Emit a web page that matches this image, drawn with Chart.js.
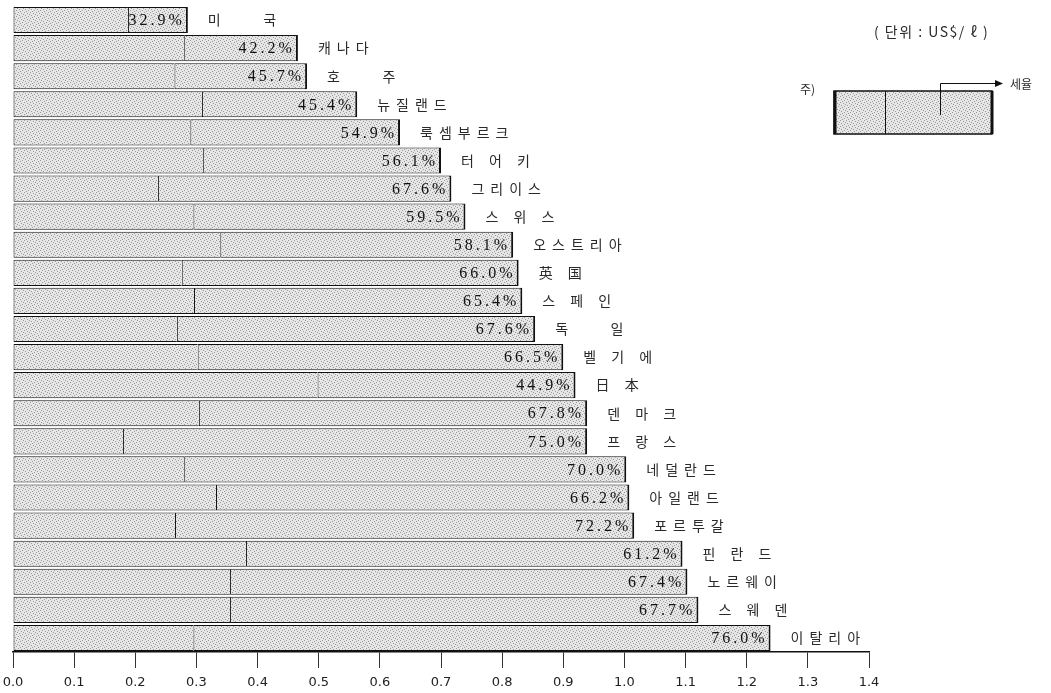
<!DOCTYPE html>
<html><head><meta charset="utf-8">
<script src="https://cdn.jsdelivr.net/npm/chart.js@4/dist/chart.umd.min.js"></script>
<style>html,body{margin:0;padding:0;background:#fff;}#wrap{width:1051px;height:693px;position:relative;}</style>
</head><body><div id="wrap"><canvas id="c" width="1051" height="693"></canvas></div>
<script>
const countries = ['미    국','캐나다','호    주','뉴질랜드','룩셈부르크','터 어 키','그리이스','스 위 스','오스트리아','英 国','스 페 인','독    일','벨 기 에','日 本','덴 마 크','프 랑 스','네덜란드','아일랜드','포르투갈','핀 란 드','노르웨이','스 웨 덴','이탈리아'];
const totalPrice = [0.286,0.466,0.481,0.563,0.633,0.700,0.717,0.740,0.818,0.827,0.833,0.854,0.900,0.920,0.939,0.939,1.003,1.008,1.016,1.095,1.103,1.121,1.239];
const preTaxPrice = [0.188,0.280,0.264,0.309,0.290,0.311,0.237,0.295,0.339,0.276,0.296,0.268,0.302,0.498,0.304,0.180,0.280,0.332,0.265,0.381,0.355,0.355,0.295];
const taxShareLabels = ['32.9%','42.2%','45.7%','45.4%','54.9%','56.1%','67.6%','59.5%','58.1%','66.0%','65.4%','67.6%','66.5%','44.9%','67.8%','75.0%','70.0%','66.2%','72.2%','61.2%','67.4%','67.7%','76.0%'];
const xTickLabels = ['0.0','0.1','0.2','0.3','0.4','0.5','0.6','0.7','0.8','0.9','1.0','1.1','1.2','1.3','1.4'];
const unitText = '( 단위 : US$/ ℓ )';
const noteLabel = '주)';
const noteTaxLabel = '세율';

function makePattern(ctx){
  const p=document.createElement('canvas'); p.width=6; p.height=6;
  const g=p.getContext('2d');
  g.fillStyle='#e6e6e6'; g.fillRect(0,0,6,6);
  g.fillStyle='#9a9a9a';
  [[0,0],[3,1],[1,3],[4,4],[2,5],[5,2]].forEach(([x,y])=>g.fillRect(x,y,1,1));
  return ctx.createPattern(p,'repeat');
}
const canvas=document.getElementById('c');
const ctx0=canvas.getContext('2d');
const pattern=makePattern(ctx0);

const labelPlugin={
  id:'labels',
  afterDatasetsDraw(chart){
    const ctx=chart.ctx;
    const meta=chart.getDatasetMeta(1);
    ctx.save();
    meta.data.forEach((el,i)=>{
      ctx.fillStyle='#111';
      ctx.textBaseline='middle';
      ctx.font='16px "Liberation Serif", serif';
      ctx.letterSpacing='3px';
      ctx.textAlign='right';
      ctx.fillText(taxShareLabels[i], el.x-3, el.y+1);
      ctx.font='14px "Noto Sans CJK KR", sans-serif';
      ctx.letterSpacing='6px';
      ctx.textAlign='left';
      ctx.fillStyle='#2a2a2a';
      ctx.fillText(countries[i], el.x+20, el.y);
    });
    ctx.letterSpacing='1.5px';
    ctx.font='14px "Noto Sans CJK KR", sans-serif';
    ctx.textAlign='left';
    ctx.fillStyle='#2a2a2a';
    ctx.fillText(unitText, 874, 32);
    ctx.letterSpacing='0px';
    ctx.font='12px "Noto Sans CJK KR", sans-serif';
    ctx.fillText(noteLabel, 800, 89);
    ctx.fillText(noteTaxLabel, 1010, 84);
    ctx.fillStyle=pattern;
    ctx.fillRect(834,91,158,43);
    ctx.strokeStyle='#111';
    ctx.lineWidth=1.5;
    ctx.strokeRect(834,91,158,43);
    ctx.lineWidth=3;
    ctx.beginPath();ctx.moveTo(992,91);ctx.lineTo(992,134);ctx.stroke();
    ctx.beginPath();ctx.moveTo(835,91);ctx.lineTo(835,134);ctx.stroke();
    ctx.lineWidth=1;
    ctx.beginPath();ctx.moveTo(885.5,91);ctx.lineTo(885.5,134);ctx.stroke();
    ctx.beginPath();ctx.moveTo(940.5,115);ctx.lineTo(940.5,83.5);ctx.lineTo(1000,83.5);ctx.stroke();
    ctx.fillStyle='#111';
    ctx.beginPath();ctx.moveTo(1003,83.5);ctx.lineTo(995,80);ctx.lineTo(995,87);ctx.closePath();ctx.fill();
    ctx.restore();
  }
};

new Chart(canvas,{
  type:'bar',
  data:{
    labels:countries,
    datasets:[
      {data:preTaxPrice, backgroundColor:pattern, borderColor:'#111', borderWidth:{top:1,bottom:1,left:1,right:0}, borderSkipped:false, grouped:false, barPercentage:0.93, categoryPercentage:1},
      {data:countries.map((c,i)=>[preTaxPrice[i], totalPrice[i]]), backgroundColor:pattern, borderColor:'#111', borderWidth:{top:1,bottom:1,left:1,right:2}, borderSkipped:false, grouped:false, barPercentage:0.93, categoryPercentage:1}
    ]
  },
  options:{
    indexAxis:'y',
    responsive:false,
    devicePixelRatio:1,
    animation:false,
    layout:{padding:{left:13,right:182,top:6,bottom:0}},
    plugins:{legend:{display:false},tooltip:{enabled:false}},
    scales:{
      y:{display:false},
      x:{
        min:0,max:1.4,
        afterFit(scale){scale.paddingLeft=0;scale.paddingRight=0;scale.height=41;},
        border:{display:true,color:'#111',width:1.5},
        grid:{drawOnChartArea:false,drawTicks:true,tickLength:16,color:'#333',lineWidth:1},
        ticks:{stepSize:0.1,padding:7,color:'#222',font:{family:'"DejaVu Sans", sans-serif',size:13},
          callback:(v,i)=>xTickLabels[i]}
      }
    }
  },
  plugins:[labelPlugin]
});
</script></body></html>
